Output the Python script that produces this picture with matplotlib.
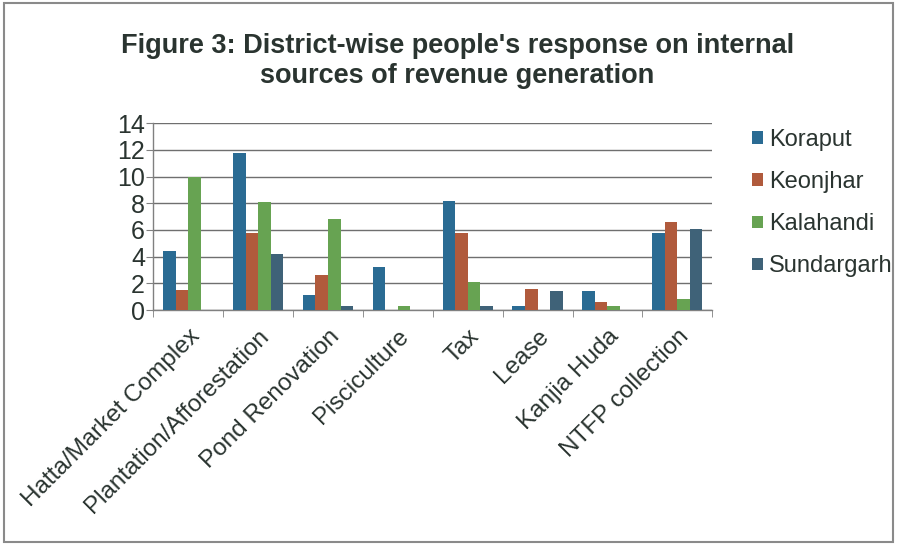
import matplotlib
matplotlib.use("Agg")
import matplotlib.pyplot as plt
from matplotlib.patches import Rectangle
import numpy as np

categories = ["Hatta/Market Complex", "Plantation/Afforestation", "Pond Renovation",
              "Pisciculture", "Tax", "Lease", "Kanjia Huda", "NTFP collection"]
koraput = [4.4, 11.8, 1.1, 3.2, 8.2, 0.3, 1.4, 5.8]
keonjhar = [1.5, 5.8, 2.6, 0.0, 5.8, 1.6, 0.6, 6.6]
kalahandi = [10.0, 8.1, 6.8, 0.3, 2.1, 0.0, 0.3, 0.8]
sundargarh = [0.0, 4.2, 0.3, 0.0, 0.3, 1.4, 0.0, 6.1]
series_names = ["Koraput", "Keonjhar", "Kalahandi", "Sundargarh"]
series = [koraput, keonjhar, kalahandi, sundargarh]
colors = ["#2a6b93", "#b05a3c", "#67a352", "#3f6278"]
yticks = [0, 2, 4, 6, 8, 10, 12, 14]

plt.rcParams['font.family'] = ['Liberation Sans', 'DejaVu Sans']
text_color = "#2a3430"

fig = plt.figure(figsize=(8.97, 5.45), dpi=100)
fig.patch.set_facecolor("white")
ax = fig.add_axes([0.171, 0.431, 0.623, 0.343])

x = np.arange(len(categories))
w = 0.18
for i, (name, vals, c) in enumerate(zip(series_names, series, colors)):
    ax.bar(x + (i - 1.5) * w, vals, width=w, color=c, label=name, zorder=3)

ax.set_xlim(-0.5, len(categories) - 0.5)
ax.set_ylim(0, 14)
ax.set_yticks(yticks)
ax.set_yticklabels([str(v) for v in yticks], fontsize=18, color=text_color)
ax.yaxis.grid(True, color="#6f6f6f", linewidth=1.0, zorder=0)
ax.set_axisbelow(True)

ax.set_xticks(x)
ax.set_xticklabels(categories, rotation=45, ha="right", rotation_mode="anchor",
                   fontsize=17.5, color=text_color)
ax.tick_params(axis="x", length=0, pad=11)
ax.set_xticks(np.arange(-0.5, len(categories) + 0.5, 1), minor=True)
ax.tick_params(axis="x", which="minor", length=5, color="#808080")
ax.tick_params(axis="y", length=5, color="#808080", pad=1)

for s in ["top", "right"]:
    ax.spines[s].set_visible(False)
for s in ["left", "bottom"]:
    ax.spines[s].set_color("#808080")
    ax.spines[s].set_linewidth(1.0)

fig.text(0.51, 0.888, "Figure 3: District-wise people's response on internal\nsources of revenue generation",
         ha="center", va="center", fontsize=19.5, fontweight="bold", color=text_color,
         linespacing=1.17)

leg = fig.legend(loc="upper left", bbox_to_anchor=(0.815, 0.802), frameon=False,
                 fontsize=17, handlelength=0.45, handleheight=0.45, handletextpad=0.25,
                 labelspacing=0.85, labelcolor=text_color)

fig.patches.append(Rectangle((0.004, 0.006), 0.992, 0.988, transform=fig.transFigure,
                             fill=False, edgecolor="#8a8a8a", linewidth=1.5))

fig.savefig("out.png", dpi=100, facecolor="white")
